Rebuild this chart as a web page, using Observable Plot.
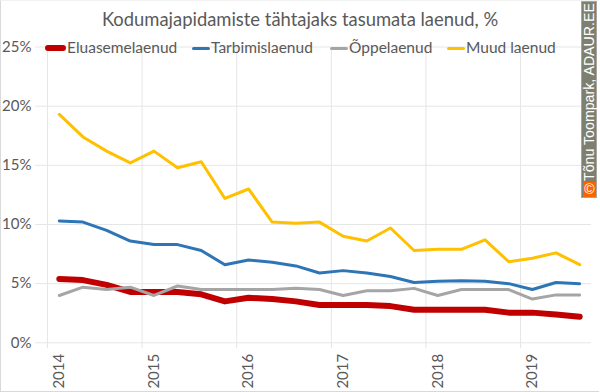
<!DOCTYPE html>
<html><head><meta charset="utf-8">
<script src="https://cdn.jsdelivr.net/npm/d3@7"></script>
<script src="https://cdn.jsdelivr.net/npm/@observablehq/plot@0.6"></script>
<style>
html,body{margin:0;padding:0;background:#fff}
#wrap{position:relative;width:600px;height:392px;overflow:hidden;font-family:Lato,sans-serif;color:#595959}
#wrap svg{position:absolute;left:0;top:0}
#frame{position:absolute;left:0;top:0;width:598px;height:390px;border:1px solid #d9d9d9;border-top-color:#f2f2f2;border-right:0;pointer-events:none}
#title{position:absolute;left:0;top:7px;width:600px;text-align:center;font-size:18.4px;line-height:24px;white-space:nowrap}
.leg{position:absolute;top:37px;font-size:15.5px;line-height:20px;white-space:nowrap}
.key{position:absolute;top:48px;height:0;border-radius:3px}
#wm{position:absolute;left:581px;top:1px;width:16px;height:197px;background:#7f7f6f;border:1px solid #a6a6a6;box-sizing:border-box}
#wmtext{position:absolute;left:581px;top:181px;width:16px;height:0;color:#fff}
#wmtext span{position:absolute;left:8px;top:0;transform-origin:0 0;transform:rotate(-90deg) translateY(-50%);font:14.2px "Liberation Sans",sans-serif;white-space:nowrap;line-height:16px}
#cc{position:absolute;left:583px;top:182px;width:13px;height:15px;background:#fa6400;color:#fff;font:14px/15px "Liberation Sans",sans-serif;text-align:center}
</style></head><body><div id="wrap"></div>
<script>
const quarters = ["2014Q1","2014Q2","2014Q3","2014Q4","2015Q1","2015Q2","2015Q3","2015Q4","2016Q1","2016Q2","2016Q3","2016Q4","2017Q1","2017Q2","2017Q3","2017Q4","2018Q1","2018Q2","2018Q3","2018Q4","2019Q1","2019Q2","2019Q3"];
const eluasemelaenud = [5.4,5.3,4.9,4.3,4.3,4.3,4.1,3.5,3.8,3.7,3.5,3.2,3.2,3.2,3.1,2.8,2.8,2.8,2.8,2.55,2.55,2.4,2.2];
const tarbimislaenud = [10.3,10.2,9.5,8.6,8.3,8.3,7.8,6.6,7.0,6.8,6.5,5.9,6.1,5.9,5.6,5.1,5.2,5.25,5.2,5.0,4.5,5.1,5.0];
const oppelaenud = [4.0,4.7,4.5,4.7,4.0,4.8,4.5,4.5,4.5,4.5,4.6,4.5,4.0,4.4,4.4,4.6,4.0,4.5,4.5,4.5,3.7,4.05,4.05];
const muudLaenud = [19.3,17.4,16.2,15.2,16.2,14.8,15.3,12.2,13.0,10.2,10.1,10.2,9.0,8.6,9.7,7.8,7.9,7.9,8.7,6.85,7.15,7.6,6.6];
const yearLabels = ["2014","2015","2016","2017","2018","2019"];
const yTicks = [0,5,10,15,20,25];
const seriesDefs = [
  {name:"Eluasemelaenud", values:eluasemelaenud, color:"#c00000", w:6},
  {name:"Tarbimislaenud", values:tarbimislaenud, color:"#2e75b6", w:3},
  {name:"Õppelaenud", values:oppelaenud, color:"#a5a5a5", w:3},
  {name:"Muud laenud", values:muudLaenud, color:"#ffc000", w:3}
];
const yearIdx = yearLabels.map((_,i)=>i*4);
const row = s => s.values.map((v,i)=>({q:i+0.5,v}));
const gridColor = "#e6e6e6";
const plot = Plot.plot({
  width:600,height:392,
  marginLeft:47,marginRight:9,marginTop:46.5,marginBottom:49.7,
  style:{background:"transparent",fontFamily:"Lato,sans-serif",color:"#595959",overflow:"visible"},
  x:{domain:[0,23],axis:null},
  y:{domain:[0,25],axis:null},
  marks:[
    Plot.ruleY(yTicks,{y:d=>d,x1:-0.5,x2:23,stroke:gridColor,strokeWidth:1}),
    Plot.ruleX(yearIdx,{x:d=>d,y1:-0.5,y2:25,stroke:gridColor,strokeWidth:1}),
    Plot.text(yTicks,{x:0,y:d=>d,text:d=>d+"%",textAnchor:"end",dx:-16,fontSize:15,fill:"#595959"}),
    Plot.text(yearLabels,{x:(d,i)=>i*4+0.5,y:0,text:d=>d,rotate:-90,textAnchor:"end",dy:11,fontSize:15,fill:"#595959"}),
    ...seriesDefs.map(s=>Plot.line(row(s),{x:"q",y:"v",stroke:s.color,strokeWidth:s.w,strokeLinecap:"round",strokeLinejoin:"round"}))
  ]
});
const wrap=document.getElementById("wrap");
wrap.appendChild(plot);
const add=(html)=>{const t=document.createElement("template");t.innerHTML=html;wrap.appendChild(t.content.firstChild);};
add('<div id="frame"></div>');
add('<div id="title">Kodumajapidamiste tähtajaks tasumata laenud, %</div>');
[["Eluasemelaenud","#c00000",6,45,21,67],["Tarbimislaenud","#2e75b6",3,192,18,211],["Õppelaenud","#a5a5a5",3,330,18,349],["Muud laenud","#ffc000",3,447,18,466]].forEach(([n,c,w,kx,kw,tx])=>{
  add(`<div class="key" style="left:${kx}px;width:${kw}px;border-top:${w}px solid ${c};margin-top:${-w/2}px"></div>`);
  add(`<div class="leg" style="left:${tx}px">${n}</div>`);
});
add('<div id="wm"></div>');
add('<div id="wmtext"><span>Tõnu Toompark, ADAUR.EE</span></div>');
add('<div id="cc">©</div>');
</script></body></html>
